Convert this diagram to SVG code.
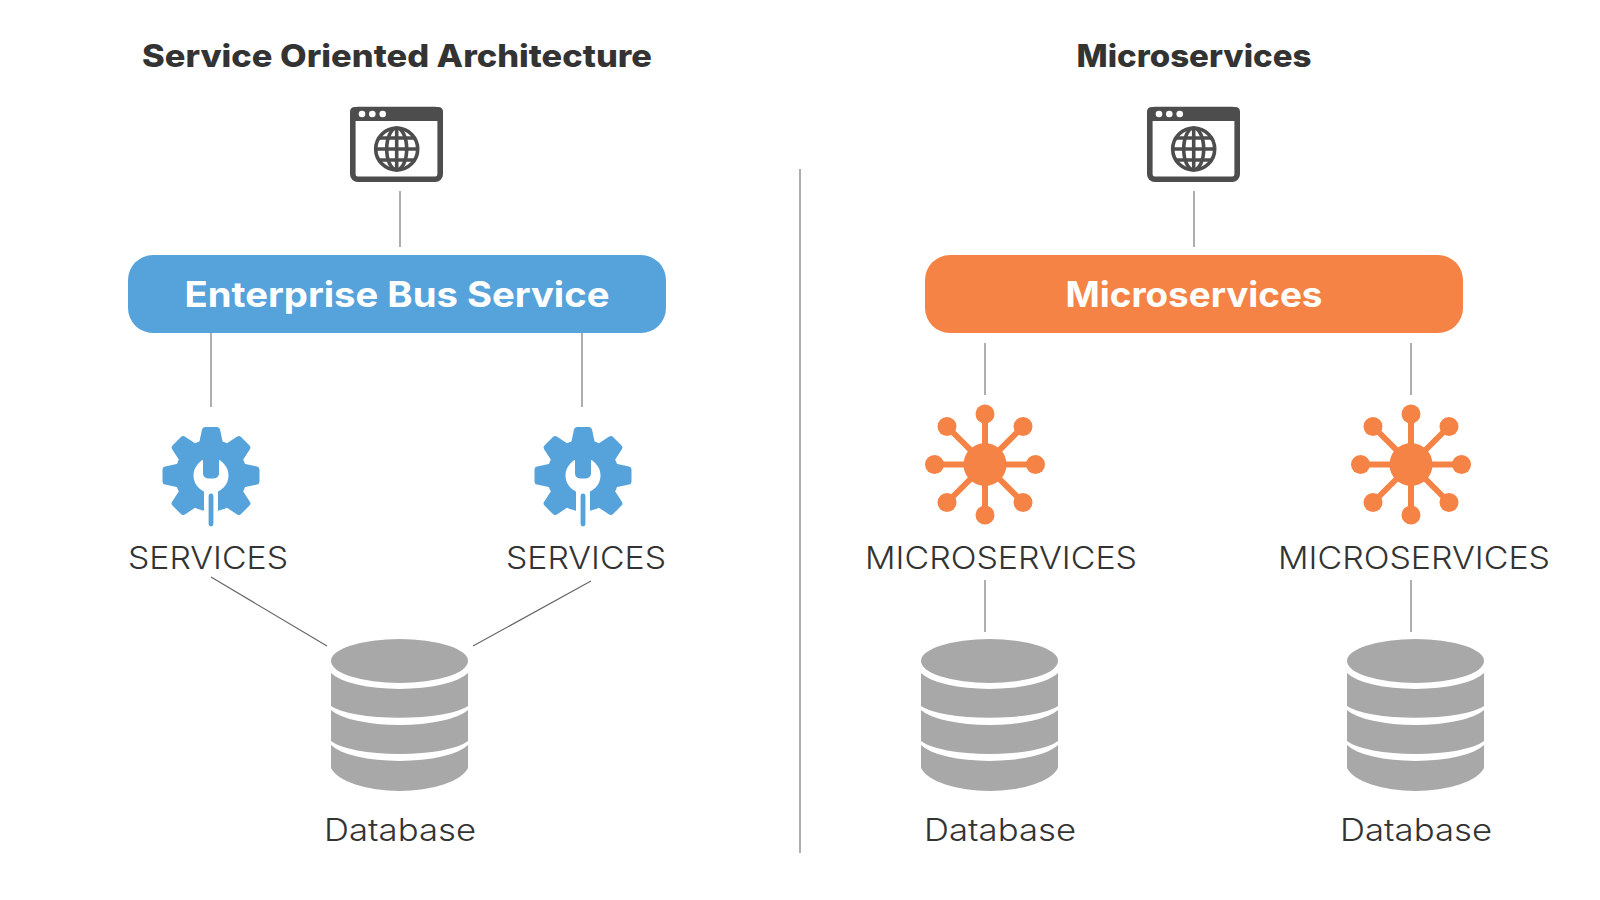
<svg xmlns="http://www.w3.org/2000/svg" width="1600" height="900" viewBox="0 0 1600 900">
<style>
text{font-family:"Inter","Liberation Sans",sans-serif;text-anchor:middle}
.title{font-size:31px;font-weight:800;fill:#333}
.bus{font-size:35px;font-weight:700;fill:#fff}
.lab{font-size:31px;font-weight:300;fill:#333}
.conn line{stroke:#8c8c8c;stroke-width:1.4}
.conn .diag{stroke:#666;stroke-width:1.200}
.blue{fill:#56a3db}
.orange{fill:#f58345}
.db{fill:#a8a8a8}
</style>
<defs>
<path id="tooth" d="M-12,-32 L-9,-46 Q-8.500,-48.500 -6,-48.500 L6,-48.500 Q8.500,-48.500 9,-46 L12,-32Z"/>
<g id="gear">
<circle r="36"/>
<use href="#tooth"/><use href="#tooth" transform="rotate(45)"/><use href="#tooth" transform="rotate(90)"/><use href="#tooth" transform="rotate(135)"/>
<use href="#tooth" transform="rotate(225)"/><use href="#tooth" transform="rotate(270)"/><use href="#tooth" transform="rotate(315)"/>
<circle r="17.500" fill="#fff"/>
<rect x="-8" y="-30" width="16" height="33" rx="5"/>
<rect x="-7" y="10" width="14" height="44" fill="#fff"/>
<rect x="-2.400" y="18" width="4.800" height="33" rx="2.400"/>
</g>
<g id="hub">
<g stroke="#f58345" stroke-width="6">
<line x1="0" y1="-50" x2="0" y2="50"/><line x1="-50" y1="0" x2="50" y2="0"/>
<line x1="-38" y1="-38" x2="38" y2="38"/><line x1="-38" y1="38" x2="38" y2="-38"/>
</g>
<circle r="21.500"/>
<circle cy="-50.500" r="9.500"/><circle cy="50.500" r="9.500"/><circle cx="-50.500" r="9.500"/><circle cx="50.500" r="9.500"/>
<circle cx="-38" cy="-38" r="9.500"/><circle cx="38" cy="-38" r="9.500"/><circle cx="-38" cy="38" r="9.500"/><circle cx="38" cy="38" r="9.500"/>
</g>
<g id="cyl">
<ellipse cx="0" cy="661" rx="68.500" ry="22"/>
<path d="M-68.500,673 A72,23 0 0 0 68.500,673 V706 A72,17 0 0 1 -68.500,706Z"/>
<path d="M-68.500,710 A72,21.700 0 0 0 68.500,710 V741 A72,18.800 0 0 1 -68.500,741Z"/>
<path d="M-68.500,745 A72,23 0 0 0 68.500,745 V768 A70,29 0 0 1 -68.500,768Z"/>
</g>
<g id="browser">
<rect x="352.800" y="109.500" width="87.400" height="69.700" rx="5" fill="#fff" stroke="#4d4d4d" stroke-width="5.600"/>
<path d="M350,121 V112 Q350,107 355,107 H438 Q443,107 443,112 V121Z" fill="#4d4d4d"/>
<circle cx="362" cy="114" r="3.300" fill="#fff"/><circle cx="372.300" cy="114" r="3.300" fill="#fff"/><circle cx="382.700" cy="114" r="3.300" fill="#fff"/>
<g fill="none" stroke="#4d4d4d" stroke-width="3.600">
<circle cx="396.700" cy="149" r="21"/>
<ellipse cx="396.700" cy="149" rx="10" ry="21"/>
<line x1="396.700" y1="128" x2="396.700" y2="170"/>
<line x1="375.700" y1="149" x2="417.700" y2="149"/>
<path d="M379,138 H414.400 M379,160 H414.400"/>
</g>
</g>
</defs>
<g id="titles">
<text class="title" x="397" y="67" textLength="510" lengthAdjust="spacingAndGlyphs">Service Oriented Architecture</text>
<text class="title" x="1194" y="67" textLength="235" lengthAdjust="spacingAndGlyphs">Microservices</text>
</g>
<g id="connectors" class="conn">
<line x1="400" y1="191" x2="400" y2="247"/>
<line x1="1194" y1="191" x2="1194" y2="247"/>
<line x1="211" y1="333" x2="211" y2="407"/>
<line x1="582" y1="333" x2="582" y2="407"/>
<line x1="985" y1="343" x2="985" y2="395"/>
<line x1="1411" y1="343" x2="1411" y2="395"/>
<line class="diag" x1="211" y1="577" x2="327" y2="646"/>
<line class="diag" x1="591" y1="581" x2="473" y2="646"/>
<line x1="985" y1="580" x2="985" y2="632"/>
<line x1="1411" y1="580" x2="1411" y2="632"/>
<line x1="800" y1="169" x2="800" y2="853" stroke="#b5b5b5"/>
</g>
<g id="browser-left"><use href="#browser"/></g>
<g id="browser-right"><use href="#browser" x="797"/></g>
<g id="bus-left"><rect class="blue" x="128" y="255" width="538" height="78" rx="25"/><text class="bus" x="397" y="307" textLength="425" lengthAdjust="spacingAndGlyphs">Enterprise Bus Service</text></g>
<g id="bus-right"><rect class="orange" x="925" y="255" width="538" height="78" rx="25"/><text class="bus" x="1194" y="307" textLength="257" lengthAdjust="spacingAndGlyphs">Microservices</text></g>
<g id="service-1"><use href="#gear" class="blue" x="211" y="475.500"/><text class="lab" x="208" y="569" textLength="160" lengthAdjust="spacingAndGlyphs">SERVICES</text></g>
<g id="service-2"><use href="#gear" class="blue" x="583" y="475.500"/><text class="lab" x="586" y="569" textLength="160" lengthAdjust="spacingAndGlyphs">SERVICES</text></g>
<g id="micro-1"><use href="#hub" class="orange" x="985" y="464.500"/><text class="lab" x="1001" y="569" textLength="272" lengthAdjust="spacingAndGlyphs">MICROSERVICES</text></g>
<g id="micro-2"><use href="#hub" class="orange" x="1411" y="464.500"/><text class="lab" x="1414" y="569" textLength="272" lengthAdjust="spacingAndGlyphs">MICROSERVICES</text></g>
<g id="db-1"><use href="#cyl" class="db" x="399.500"/><text class="lab" x="400" y="841" textLength="152" lengthAdjust="spacingAndGlyphs">Database</text></g>
<g id="db-2"><use href="#cyl" class="db" x="989.500"/><text class="lab" x="1000" y="841" textLength="152" lengthAdjust="spacingAndGlyphs">Database</text></g>
<g id="db-3"><use href="#cyl" class="db" x="1415.500"/><text class="lab" x="1416" y="841" textLength="152" lengthAdjust="spacingAndGlyphs">Database</text></g>
</svg>
